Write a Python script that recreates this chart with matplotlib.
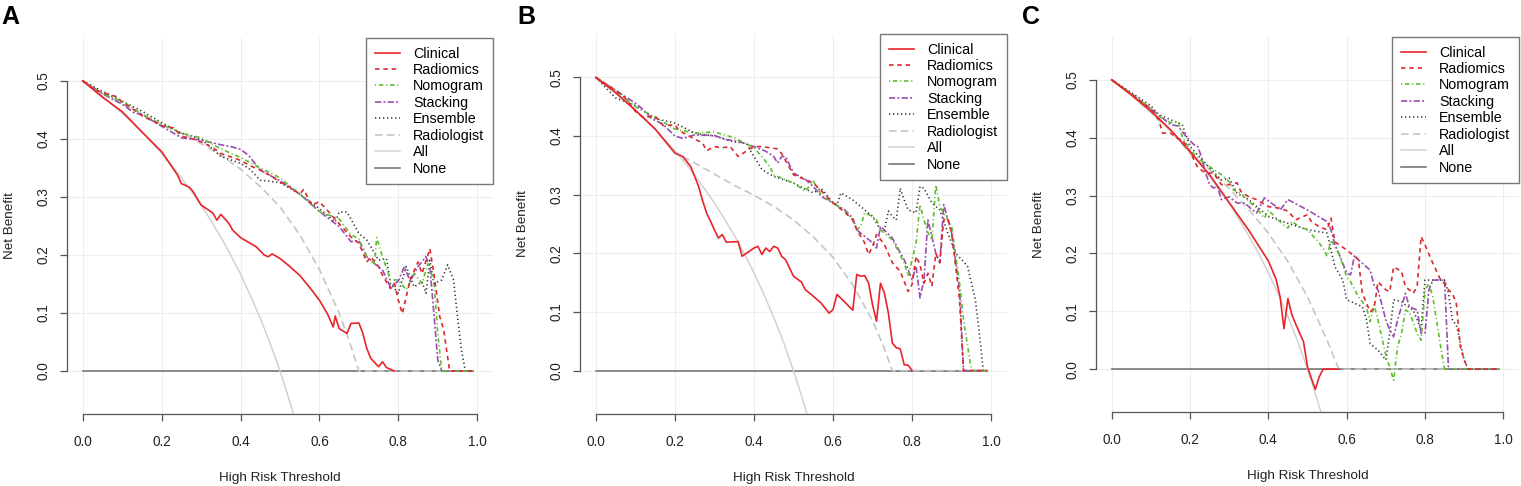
import matplotlib
matplotlib.use("Agg")
import matplotlib.pyplot as plt

# ---------------- data ----------------
labels = ["Clinical", "Radiomics", "Nomogram", "Stacking", "Ensemble", "Radiologist", "All", "None"]
panel_letters = ["A", "B", "C"]

# treat-all curve (same prevalence in every panel)
all_t = [0, 0.025, 0.05, 0.075, 0.1, 0.125, 0.15, 0.175, 0.2, 0.225, 0.25, 0.275, 0.3,
         0.325, 0.35, 0.375, 0.4, 0.425, 0.45, 0.475, 0.5, 0.525, 0.55]
all_nb = [0.5, 0.487, 0.474, 0.459, 0.444, 0.429, 0.412, 0.394, 0.375, 0.355, 0.333, 0.31, 0.286,
          0.259, 0.231, 0.2, 0.167, 0.13, 0.091, 0.048, 0.0, -0.053, -0.111]
none_t = [0, 0.99]
none_nb = [0, 0]

# panel A
a_clin_t = [0, 0.05, 0.1, 0.15, 0.2, 0.22, 0.24, 0.25, 0.27, 0.28, 0.3, 0.32, 0.33, 0.34, 0.35,
            0.37, 0.38, 0.4, 0.44, 0.46, 0.47, 0.48, 0.5, 0.52, 0.55, 0.58, 0.6, 0.62, 0.635, 0.64,
            0.65, 0.67, 0.68, 0.7, 0.71, 0.72, 0.73, 0.75, 0.76, 0.77, 0.79]
a_clin_nb = [0.5, 0.472, 0.447, 0.412, 0.378, 0.358, 0.338, 0.323, 0.317, 0.309, 0.286, 0.277, 0.272, 0.26, 0.27,
             0.255, 0.243, 0.23, 0.214, 0.2, 0.197, 0.202, 0.194, 0.183, 0.165, 0.14, 0.122, 0.099, 0.076, 0.095,
             0.073, 0.065, 0.082, 0.083, 0.065, 0.039, 0.022, 0.0075, 0.016, 0.006, 0.0]
a_rad_t = [0, 0.03, 0.05, 0.07, 0.09, 0.1, 0.12, 0.15, 0.18, 0.2, 0.23, 0.25, 0.28, 0.3, 0.33, 0.35,
           0.38, 0.4, 0.43, 0.45, 0.48, 0.5, 0.53, 0.55, 0.56, 0.58, 0.6, 0.62, 0.65, 0.68, 0.7, 0.72,
           0.73, 0.75, 0.76, 0.78, 0.79, 0.8, 0.81, 0.83, 0.85, 0.86, 0.88, 0.89, 0.905, 0.915, 0.93, 0.99]
a_rad_nb = [0.5, 0.485, 0.48, 0.476, 0.472, 0.462, 0.455, 0.44, 0.43, 0.423, 0.419, 0.405, 0.4, 0.395, 0.385, 0.375,
            0.368, 0.363, 0.352, 0.347, 0.335, 0.326, 0.315, 0.305, 0.313, 0.286, 0.292, 0.277, 0.254, 0.231, 0.22, 0.188,
            0.197, 0.18, 0.165, 0.142, 0.151, 0.122, 0.099, 0.157, 0.188, 0.168, 0.211, 0.168, 0.094, 0.071, 0.0, 0.0]
a_nom_t = [0, 0.05, 0.1, 0.15, 0.2, 0.25, 0.3, 0.35, 0.4, 0.45, 0.5, 0.55, 0.6, 0.65, 0.68,
           0.7, 0.72, 0.74, 0.745, 0.76, 0.78, 0.8, 0.82, 0.84, 0.86, 0.875, 0.89, 0.9, 0.91, 0.99]
a_nom_nb = [0.5, 0.478, 0.465, 0.443, 0.425, 0.41, 0.402, 0.383, 0.368, 0.35, 0.333, 0.305, 0.275, 0.262, 0.235,
            0.228, 0.197, 0.185, 0.23, 0.197, 0.157, 0.157, 0.14, 0.168, 0.151, 0.185, 0.157, 0.065, 0.0, 0.0]
a_stk_t = [0, 0.05, 0.1, 0.13, 0.15, 0.2, 0.25, 0.3, 0.35, 0.38, 0.4, 0.42, 0.45, 0.5, 0.55, 0.6, 0.65,
           0.68, 0.7, 0.72, 0.74, 0.76, 0.78, 0.8, 0.815, 0.83, 0.85, 0.87, 0.88, 0.89, 0.9, 0.91, 0.99]
a_stk_nb = [0.5, 0.478, 0.46, 0.445, 0.442, 0.422, 0.402, 0.398, 0.39, 0.386, 0.382, 0.372, 0.346, 0.328, 0.305, 0.275, 0.249,
            0.223, 0.225, 0.197, 0.185, 0.174, 0.145, 0.155, 0.18, 0.155, 0.18, 0.197, 0.18, 0.1, 0.019, 0.0, 0.0]
a_ens_t = [0, 0.05, 0.1, 0.15, 0.2, 0.25, 0.3, 0.35, 0.4, 0.42, 0.45, 0.5, 0.55, 0.6, 0.64, 0.65, 0.67, 0.7,
           0.72, 0.74, 0.75, 0.77, 0.78, 0.8, 0.82, 0.84, 0.86, 0.87, 0.88, 0.89, 0.91, 0.925, 0.94, 0.95,
           0.96, 0.97, 0.99]
a_ens_nb = [0.5, 0.482, 0.465, 0.448, 0.428, 0.41, 0.4, 0.37, 0.358, 0.35, 0.329, 0.325, 0.305, 0.28, 0.257, 0.274, 0.274, 0.237,
            0.226, 0.203, 0.191, 0.194, 0.151, 0.134, 0.18, 0.145, 0.154, 0.134, 0.191, 0.151, 0.157, 0.183, 0.157, 0.094,
            0.036, 0.0, 0.0]
a_rdl_t = [0, 0.05, 0.1, 0.15, 0.2, 0.25, 0.3, 0.35, 0.4, 0.45, 0.5, 0.55, 0.6, 0.65, 0.675, 0.7, 0.99]
a_rdl_nb = [0.5, 0.478, 0.46, 0.443, 0.425, 0.41, 0.392, 0.372, 0.348, 0.318, 0.283, 0.235, 0.175, 0.1, 0.053, 0.0, 0.0]

# panel B
b_clin_t = [0, 0.05, 0.1, 0.15, 0.2, 0.22, 0.24, 0.25, 0.26, 0.27, 0.28, 0.29, 0.3, 0.31, 0.32, 0.33, 0.36,
            0.37, 0.4, 0.41, 0.42, 0.43, 0.44, 0.45, 0.46, 0.47, 0.48, 0.5, 0.52, 0.53, 0.55, 0.57, 0.59, 0.6,
            0.61, 0.65, 0.66, 0.67, 0.68, 0.69, 0.7, 0.71, 0.72, 0.73, 0.74, 0.75, 0.76, 0.77, 0.78, 0.79, 0.8]
b_clin_nb = [0.5, 0.474, 0.444, 0.412, 0.371, 0.365, 0.348, 0.331, 0.314, 0.29, 0.269, 0.255, 0.24, 0.226, 0.232, 0.219, 0.22,
             0.195, 0.209, 0.212, 0.198, 0.209, 0.203, 0.212, 0.209, 0.195, 0.189, 0.161, 0.151, 0.138, 0.127, 0.115, 0.098, 0.104,
             0.13, 0.103, 0.164, 0.161, 0.162, 0.149, 0.112, 0.084, 0.149, 0.132, 0.098, 0.047, 0.039, 0.037, 0.01, 0.009, 0.0]
b_rad_t = [0, 0.05, 0.07, 0.08, 0.1, 0.12, 0.15, 0.17, 0.2, 0.21, 0.23, 0.25, 0.27, 0.28, 0.3, 0.32, 0.34, 0.36,
           0.38, 0.4, 0.42, 0.44, 0.46, 0.47, 0.5, 0.55, 0.58, 0.6, 0.63, 0.65, 0.66, 0.68, 0.69, 0.7, 0.71, 0.73,
           0.75, 0.77, 0.79, 0.8, 0.81, 0.82, 0.83, 0.84, 0.85, 0.86, 0.87, 0.88, 0.89, 0.9, 0.91, 0.92, 0.93, 0.99]
b_rad_nb = [0.5, 0.478, 0.468, 0.46, 0.442, 0.432, 0.434, 0.418, 0.419, 0.41, 0.402, 0.395, 0.388, 0.375, 0.382, 0.38, 0.382, 0.365,
            0.374, 0.382, 0.382, 0.38, 0.378, 0.37, 0.334, 0.32, 0.3, 0.286, 0.27, 0.257, 0.24, 0.218, 0.198, 0.212, 0.232, 0.215,
            0.184, 0.169, 0.135, 0.147, 0.195, 0.181, 0.149, 0.166, 0.144, 0.2, 0.184, 0.257, 0.26, 0.235, 0.178, 0.121, 0.0, 0.0]
b_nom_t = [0, 0.05, 0.1, 0.15, 0.2, 0.25, 0.3, 0.35, 0.4, 0.42, 0.44, 0.45, 0.5, 0.53, 0.55, 0.57, 0.6, 0.63,
           0.65, 0.66, 0.67, 0.68, 0.7, 0.71, 0.72, 0.75, 0.78, 0.79, 0.8, 0.81, 0.82, 0.83, 0.84, 0.85, 0.86,
           0.87, 0.88, 0.9, 0.92, 0.93, 0.95, 0.99]
b_nom_nb = [0.5, 0.478, 0.45, 0.432, 0.412, 0.405, 0.407, 0.397, 0.38, 0.365, 0.348, 0.334, 0.32, 0.306, 0.323, 0.3, 0.286, 0.272,
            0.257, 0.24, 0.246, 0.269, 0.263, 0.257, 0.24, 0.223, 0.184, 0.161, 0.189, 0.218, 0.283, 0.257, 0.235, 0.223, 0.317,
            0.28, 0.269, 0.246, 0.149, 0.087, 0.0, 0.0]
b_stk_t = [0, 0.05, 0.1, 0.12, 0.14, 0.17, 0.2, 0.22, 0.25, 0.3, 0.33, 0.36, 0.4, 0.43, 0.45, 0.46, 0.47,
           0.48, 0.5, 0.53, 0.55, 0.57, 0.6, 0.63, 0.65, 0.66, 0.68, 0.7, 0.71, 0.72, 0.75, 0.78, 0.8, 0.81,
           0.82, 0.83, 0.84, 0.86, 0.87, 0.88, 0.9, 0.92, 0.93, 0.99]
b_stk_nb = [0.5, 0.478, 0.456, 0.445, 0.43, 0.42, 0.4, 0.396, 0.402, 0.401, 0.394, 0.391, 0.382, 0.374, 0.365, 0.354, 0.365,
            0.365, 0.337, 0.326, 0.314, 0.297, 0.286, 0.274, 0.26, 0.24, 0.229, 0.218, 0.209, 0.246, 0.226, 0.189, 0.155, 0.178,
            0.124, 0.155, 0.257, 0.2, 0.184, 0.283, 0.235, 0.138, 0.0, 0.0]
b_ens_t = [0, 0.05, 0.1, 0.15, 0.2, 0.25, 0.3, 0.35, 0.38, 0.4, 0.42, 0.45, 0.5, 0.55, 0.57, 0.6, 0.61,
           0.62, 0.65, 0.68, 0.7, 0.72, 0.73, 0.74, 0.75, 0.76, 0.77, 0.78, 0.79, 0.81, 0.82, 0.83, 0.85,
           0.87, 0.89, 0.91, 0.93, 0.94, 0.96, 0.97, 0.98, 0.99]
b_ens_nb = [0.5, 0.465, 0.452, 0.43, 0.422, 0.405, 0.4, 0.39, 0.388, 0.365, 0.343, 0.331, 0.32, 0.303, 0.311, 0.286, 0.283,
            0.303, 0.291, 0.274, 0.263, 0.24, 0.24, 0.272, 0.263, 0.257, 0.311, 0.291, 0.274, 0.269, 0.314, 0.311, 0.286,
            0.274, 0.235, 0.2, 0.186, 0.178, 0.121, 0.064, 0.0, 0.0]
b_rdl_t = [0, 0.05, 0.1, 0.15, 0.2, 0.25, 0.3, 0.35, 0.4, 0.45, 0.5, 0.55, 0.6, 0.65, 0.7, 0.725, 0.75, 0.99]
b_rdl_nb = [0.5, 0.474, 0.444, 0.412, 0.372, 0.354, 0.335, 0.316, 0.299, 0.28, 0.257, 0.228, 0.193, 0.146, 0.085, 0.046, 0.0, 0.0]

# panel C
c_clin_t = [0, 0.05, 0.1, 0.15, 0.2, 0.25, 0.3, 0.35, 0.4, 0.42, 0.43, 0.44, 0.45, 0.46, 0.48, 0.49,
            0.5, 0.51, 0.52, 0.53, 0.54, 0.58]
c_clin_nb = [0.5, 0.474, 0.446, 0.414, 0.376, 0.336, 0.288, 0.24, 0.187, 0.155, 0.125, 0.07, 0.122, 0.094, 0.062, 0.047,
             0.004, -0.016, -0.035, -0.013, 0.0, 0.0]
c_rad_t = [0, 0.05, 0.1, 0.12, 0.13, 0.15, 0.17, 0.18, 0.2, 0.21, 0.22, 0.24, 0.26, 0.28, 0.3, 0.32, 0.33,
           0.35, 0.37, 0.4, 0.43, 0.45, 0.47, 0.5, 0.51, 0.53, 0.55, 0.56, 0.57, 0.6, 0.62, 0.63, 0.64, 0.66,
           0.67, 0.68, 0.7, 0.71, 0.72, 0.74, 0.75, 0.77, 0.78, 0.79, 0.8, 0.82, 0.84, 0.85, 0.86, 0.87, 0.88,
           0.89, 0.9, 0.91, 0.99]
c_rad_nb = [0.5, 0.475, 0.45, 0.431, 0.408, 0.408, 0.398, 0.397, 0.376, 0.362, 0.348, 0.339, 0.339, 0.319, 0.319, 0.322, 0.307,
            0.298, 0.293, 0.281, 0.278, 0.273, 0.258, 0.267, 0.255, 0.246, 0.241, 0.261, 0.22, 0.206, 0.195, 0.189, 0.131, 0.099,
            0.105, 0.151, 0.137, 0.134, 0.177, 0.169, 0.143, 0.131, 0.143, 0.229, 0.215, 0.183, 0.154, 0.148, 0.137, 0.131, 0.114,
            0.039, 0.016, 0.0, 0.0]
c_nom_t = [0, 0.05, 0.1, 0.12, 0.15, 0.17, 0.18, 0.2, 0.22, 0.25, 0.28, 0.3, 0.31, 0.33, 0.35, 0.37, 0.39,
           0.4, 0.42, 0.44, 0.45, 0.46, 0.48, 0.5, 0.53, 0.54, 0.55, 0.56, 0.58, 0.6, 0.61, 0.63, 0.65, 0.66,
           0.67, 0.68, 0.7, 0.72, 0.73, 0.74, 0.75, 0.76, 0.78, 0.79, 0.8, 0.81, 0.82, 0.84, 0.85, 0.99]
c_nom_nb = [0.5, 0.476, 0.45, 0.437, 0.426, 0.428, 0.402, 0.379, 0.365, 0.35, 0.336, 0.324, 0.31, 0.304, 0.29, 0.278, 0.261,
            0.275, 0.261, 0.249, 0.244, 0.255, 0.246, 0.241, 0.218, 0.209, 0.195, 0.223, 0.2, 0.16, 0.151, 0.125, 0.108, 0.082,
            0.111, 0.085, 0.024, -0.019, 0.039, 0.062, 0.102, 0.099, 0.062, 0.05, 0.137, 0.148, 0.125, 0.039, 0.0, 0.0]
c_stk_t = [0, 0.05, 0.1, 0.15, 0.17, 0.19, 0.21, 0.22, 0.23, 0.24, 0.25, 0.26, 0.27, 0.28, 0.3, 0.32, 0.34,
           0.36, 0.37, 0.39, 0.42, 0.43, 0.45, 0.5, 0.55, 0.56, 0.57, 0.58, 0.6, 0.61, 0.62, 0.63, 0.65, 0.66,
           0.67, 0.68, 0.7, 0.71, 0.72, 0.73, 0.75, 0.76, 0.78, 0.79, 0.8, 0.81, 0.82, 0.85, 0.86, 0.99]
c_stk_nb = [0.5, 0.476, 0.45, 0.423, 0.42, 0.402, 0.388, 0.385, 0.365, 0.339, 0.319, 0.313, 0.316, 0.293, 0.298, 0.287, 0.287,
            0.275, 0.27, 0.296, 0.281, 0.275, 0.293, 0.275, 0.255, 0.241, 0.215, 0.2, 0.166, 0.163, 0.197, 0.189, 0.177, 0.171,
            0.145, 0.137, 0.085, 0.068, 0.056, 0.085, 0.131, 0.108, 0.102, 0.062, 0.062, 0.137, 0.154, 0.154, 0.0, 0.0]
c_ens_t = [0, 0.05, 0.1, 0.12, 0.15, 0.18, 0.2, 0.22, 0.25, 0.28, 0.3, 0.32, 0.35, 0.4, 0.45, 0.5, 0.55,
           0.57, 0.59, 0.6, 0.62, 0.64, 0.65, 0.66, 0.68, 0.7, 0.71, 0.72, 0.74, 0.75, 0.77, 0.79, 0.8, 0.85,
           0.86, 0.87, 0.88, 0.9, 0.91, 0.99]
c_ens_nb = [0.5, 0.478, 0.455, 0.44, 0.431, 0.423, 0.385, 0.37, 0.348, 0.327, 0.33, 0.304, 0.293, 0.264, 0.252, 0.241, 0.235,
            0.177, 0.154, 0.12, 0.114, 0.108, 0.088, 0.044, 0.033, 0.016, 0.062, 0.12, 0.117, 0.111, 0.102, 0.068, 0.154, 0.154,
            0.131, 0.085, 0.076, 0.016, 0.0, 0.0]
c_rdl_t = [0, 0.05, 0.1, 0.15, 0.2, 0.25, 0.3, 0.35, 0.4, 0.45, 0.5, 0.55, 0.58, 0.99]
c_rdl_nb = [0.5, 0.474, 0.444, 0.412, 0.373, 0.345, 0.312, 0.276, 0.235, 0.186, 0.125, 0.05, 0.0, 0.0]

# ---------------- styles ----------------
plt.rcParams["font.family"] = ["Liberation Sans", "DejaVu Sans"]
plt.rcParams["lines.scale_dashes"] = False

colors = ["#E8242B", "#DC2A30", "#5DBE2E", "#9A4DB0", "#333333", "#C6C6C6", "#D2D2D2", "#777777"]
styles = ["-", (0, (3.2, 2.8)), (0, (0.8, 2.0, 3.2, 2.0)), (0, (4.5, 1.6, 1.4, 1.6)),
          (0, (0.9, 2.0)), (0, (5.5, 3.0)), "-", "-"]
widths = [1.2, 1.2, 1.2, 1.2, 1.2, 1.2, 1.1, 1.2]

# axes rectangles in pixels: left, top, right, bottom
W, H = 1521, 486
boxes = [(67, 38, 493, 414), (580, 34, 1007, 414), (1096, 37, 1519, 412)]
letter_x = [1, 517, 1022]

fig = plt.figure(figsize=(W / 100, H / 100), dpi=100)

panels = [
    [(a_clin_t, a_clin_nb), (a_rad_t, a_rad_nb), (a_nom_t, a_nom_nb), (a_stk_t, a_stk_nb),
     (a_ens_t, a_ens_nb), (a_rdl_t, a_rdl_nb)],
    [(b_clin_t, b_clin_nb), (b_rad_t, b_rad_nb), (b_nom_t, b_nom_nb), (b_stk_t, b_stk_nb),
     (b_ens_t, b_ens_nb), (b_rdl_t, b_rdl_nb)],
    [(c_clin_t, c_clin_nb), (c_rad_t, c_rad_nb), (c_nom_t, c_nom_nb), (c_stk_t, c_stk_nb),
     (c_ens_t, c_ens_nb), (c_rdl_t, c_rdl_nb)],
]

for p in range(3):
    l, t, r, b = boxes[p]
    ax = fig.add_axes([l / W, 1 - b / H, (r - l) / W, (b - t) / H])
    ax.set_xlim(-0.04, 1.04)
    ax.set_ylim(-0.074, 0.574)

    series = panels[p] + [(all_t, all_nb), (none_t, none_nb)]
    handles = [None] * 8
    # reference lines first, then model curves on top
    for i in [7, 6, 5, 4, 3, 2, 1, 0]:
        xs, ys = series[i]
        ln, = ax.plot(xs, ys, color=colors[i], linestyle=styles[i], linewidth=widths[i], label=labels[i])
        handles[i] = ln

    ax.set_xticks([0, 0.2, 0.4, 0.6, 0.8, 1.0])
    ax.set_yticks([0, 0.1, 0.2, 0.3, 0.4, 0.5])
    ax.set_xticklabels(["0.0", "0.2", "0.4", "0.6", "0.8", "1.0"])
    ax.set_yticklabels(["0.0", "0.1", "0.2", "0.3", "0.4", "0.5"])
    ax.grid(True, color="#EEEEEE", linewidth=0.8)
    ax.set_axisbelow(True)

    for s in ["top", "right"]:
        ax.spines[s].set_visible(False)
    ax.spines["left"].set_bounds(0, 0.5)
    ax.spines["bottom"].set_bounds(0, 1)
    for s in ["left", "bottom"]:
        ax.spines[s].set_color("#555555")
        ax.spines[s].set_linewidth(0.9)
    ax.tick_params(direction="out", length=5, width=0.9, color="#555555",
                   labelsize=9.8, labelcolor="#222222")
    ax.tick_params(axis="x", pad=10)
    ax.tick_params(axis="y", labelrotation=90, pad=7)
    for lab in ax.get_yticklabels():
        lab.set_va("center")

    ax.set_xlabel("High Risk Threshold", fontsize=9.7, color="#222222", labelpad=17)
    ax.set_ylabel("Net Benefit", fontsize=9.7, color="#222222", labelpad=15)

    leg = ax.legend(handles=handles, loc="upper right", bbox_to_anchor=(1.0, 1.0),
                    borderaxespad=0, fancybox=False, framealpha=1, edgecolor="#777777",
                    fontsize=10.3, handlelength=1.8, labelspacing=0.17, borderpad=0.6,
                    handletextpad=0.9)
    leg.get_frame().set_linewidth(1.0)

    fig.text(letter_x[p] / W, 1 - 24 / H, panel_letters[p], fontsize=18, fontweight="bold",
             ha="left", va="baseline")

fig.savefig("out.png", dpi=100)
